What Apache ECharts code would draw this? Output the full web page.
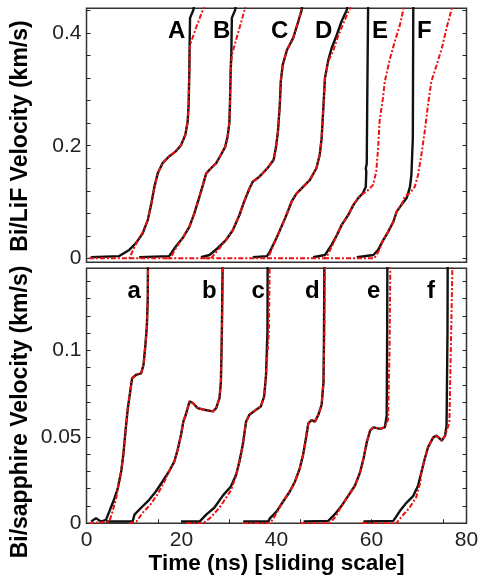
<!DOCTYPE html>
<html>
<head>
<meta charset="utf-8">
<script src="https://cdn.jsdelivr.net/npm/echarts@6/dist/echarts.min.js"></script>
<style>
  html, body { margin: 0; padding: 0; background: #fff; }
  #chart { width: 483px; height: 578px; }
</style>
</head>
<body>
<div id="chart"></div>
<script>
// Bi/LiF window, measured (black) and simulated (red), [time ns, velocity km/s]
const lifA_exp = [[0.9,0.002],[6.9,0.004],[9.0,0.015],[10.4,0.027],[11.8,0.044],[12.9,0.068],[13.6,0.095],[14.3,0.127],[15.0,0.151],[16.0,0.169],[17.4,0.181],[18.8,0.190],[19.9,0.201],[20.8,0.219],[21.3,0.243],[21.5,0.273],[21.65,0.332],[21.7,0.373],[21.8,0.427],[22.5,0.441],[22.9,0.46]];
const lifA_sim = [[0.5,0],[9.0,0],[10.1,0.020],[11.2,0.038],[11.8,0.046],[12.9,0.068],[13.6,0.095],[14.3,0.127],[15.0,0.151],[16.0,0.169],[17.4,0.181],[18.8,0.190],[19.9,0.201],[20.8,0.219],[21.3,0.243],[21.5,0.273],[21.65,0.332],[21.8,0.379],[23.05,0.409],[24.9,0.45]];
const lifB_exp = [[11.1,0.002],[17.4,0.004],[18.8,0.021],[20.25,0.036],[21.65,0.056],[22.7,0.080],[23.8,0.110],[24.5,0.130],[25.2,0.151],[26.2,0.160],[27.3,0.169],[28.3,0.184],[29.2,0.198],[29.7,0.216],[30.07,0.240],[30.2,0.273],[30.35,0.332],[30.5,0.367],[30.6,0.427],[31.3,0.441],[31.5,0.46]];
const lifB_sim = [[9.0,0],[17.6,0],[18.9,0.019],[20.25,0.036],[21.65,0.056],[22.7,0.080],[23.8,0.110],[24.5,0.130],[25.2,0.151],[26.2,0.160],[27.3,0.169],[28.3,0.184],[29.2,0.198],[29.7,0.216],[30.07,0.240],[30.2,0.273],[30.35,0.332],[30.6,0.361],[31.8,0.397],[33.6,0.45]];
const lifC_exp = [[24.1,0.002],[25.9,0.006],[27.6,0.018],[29.4,0.033],[30.8,0.050],[32.2,0.077],[33.2,0.101],[34.3,0.124],[35.0,0.136],[36.4,0.145],[38.1,0.160],[39.4,0.175],[39.9,0.198],[40.3,0.225],[40.7,0.273],[40.9,0.314],[41.3,0.343],[42.2,0.370],[43.5,0.391],[44.6,0.421],[45.3,0.441],[45.6,0.46]];
const lifC_sim = [[17.0,0],[26.2,0],[27.8,0.016],[29.4,0.033],[30.8,0.050],[32.2,0.077],[33.2,0.101],[34.3,0.124],[35.0,0.136],[36.4,0.145],[38.1,0.160],[39.4,0.175],[39.9,0.198],[40.3,0.225],[40.7,0.273],[40.9,0.314],[41.3,0.343],[42.2,0.370],[43.5,0.391],[44.6,0.421],[45.5,0.45]];
const lifD_exp = [[35.0,0.002],[38.0,0.004],[38.6,0.012],[40.0,0.036],[41.8,0.071],[43.2,0.101],[44.2,0.115],[45.6,0.127],[47.0,0.139],[48.4,0.160],[49.1,0.184],[49.5,0.213],[49.9,0.273],[50.2,0.320],[50.9,0.352],[51.6,0.373],[52.7,0.397],[53.7,0.421],[54.8,0.441],[55.2,0.46]];
const lifD_sim = [[25.0,0],[38.2,0],[38.8,0.012],[40.0,0.036],[41.8,0.071],[43.2,0.101],[44.2,0.115],[45.6,0.127],[47.0,0.139],[48.4,0.160],[49.1,0.184],[49.5,0.213],[49.9,0.273],[50.2,0.320],[50.9,0.350],[51.9,0.368],[53.0,0.395],[54.2,0.420],[55.8,0.45]];
const lifE_exp = [[47.7,0.002],[50.2,0.006],[51.6,0.024],[52.7,0.041],[53.7,0.059],[55.1,0.077],[56.2,0.095],[57.2,0.107],[58.2,0.116],[58.8,0.127],[58.9,0.154],[58.8,0.160],[59.0,0.168],[59.1,0.273],[59.3,0.46]];
const lifE_sim = [[38.0,0],[50.4,0],[51.7,0.022],[52.7,0.041],[53.7,0.059],[55.1,0.077],[56.2,0.095],[57.2,0.107],[58.2,0.115],[58.9,0.118],[60.3,0.130],[61.0,0.154],[61.4,0.196],[61.7,0.243],[62.4,0.284],[62.8,0.314],[63.9,0.355],[64.9,0.385],[66.0,0.415],[66.9,0.45]];
const lifF_exp = [[56.9,0.002],[60.4,0.006],[61.4,0.015],[62.5,0.033],[63.5,0.047],[64.6,0.065],[65.3,0.083],[66.3,0.095],[67.4,0.107],[68.1,0.127],[68.4,0.148],[68.7,0.213],[68.8,0.46]];
const lifF_sim = [[50.0,0],[60.6,0],[61.6,0.014],[62.5,0.033],[63.5,0.047],[64.6,0.065],[65.3,0.083],[66.3,0.095],[67.0,0.110],[68.1,0.116],[69.1,0.127],[69.8,0.148],[70.5,0.184],[71.2,0.225],[71.9,0.273],[72.6,0.314],[73.7,0.343],[74.8,0.373],[75.8,0.409],[77.1,0.45]];

// Bi/sapphire window
const sapA_exp = [[1.0,0.001],[2.0,0.003],[3.0,0.001],[4.1,0.002],[4.8,0.0068],[5.9,0.0145],[6.6,0.0204],[7.3,0.0299],[7.75,0.0396],[8.2,0.0531],[8.7,0.0666],[9.2,0.0762],[9.6,0.0839],[10.4,0.0858],[11.5,0.0867],[12.0,0.0916],[12.4,0.1032],[12.7,0.1138],[12.9,0.130],[12.95,0.16]];
const sapA_sim = [[0.5,0],[4.8,0.001],[5.4,0.006],[6.3,0.015],[6.6,0.0204],[7.3,0.0299],[7.75,0.0396],[8.2,0.0531],[8.7,0.0666],[9.2,0.0762],[9.6,0.0839],[10.4,0.0858],[11.5,0.0867],[12.0,0.0916],[12.4,0.1032],[12.7,0.1138],[12.9,0.130],[13.0,0.16]];
const sapB_exp = [[4.1,0.001],[9.7,0.001],[10.1,0.005],[11.5,0.009],[13.2,0.0136],[14.6,0.0184],[16.0,0.0242],[17.4,0.0301],[18.5,0.0358],[19.2,0.0426],[19.9,0.0512],[20.4,0.0589],[20.9,0.0628],[21.7,0.0705],[22.4,0.0696],[23.4,0.0666],[24.8,0.0657],[26.6,0.0647],[27.3,0.0666],[28.0,0.0724],[28.3,0.082],[28.5,0.111],[28.7,0.16]];
const sapB_sim = [[9.0,0],[10.5,0.001],[11.8,0.006],[13.5,0.011],[15.0,0.017],[16.3,0.0235],[17.4,0.0301],[18.5,0.0358],[19.2,0.0426],[19.9,0.0512],[20.4,0.0589],[20.9,0.0628],[21.7,0.0705],[22.4,0.0696],[23.4,0.0666],[24.8,0.0657],[26.6,0.0647],[27.3,0.0666],[28.0,0.0724],[28.3,0.082],[28.5,0.111],[28.8,0.16]];
const sapC_exp = [[19.9,0.001],[23.8,0.001],[25.2,0.005],[26.9,0.009],[28.7,0.016],[30.4,0.0213],[31.5,0.0281],[32.2,0.0358],[32.9,0.0454],[33.6,0.0589],[34.3,0.0628],[35.7,0.0657],[36.7,0.0676],[37.4,0.0734],[37.8,0.0859],[38.1,0.111],[38.15,0.16]];
const sapC_sim = [[21.0,0],[24.5,0],[26.0,0.003],[28.0,0.009],[30.4,0.019],[31.5,0.0275],[32.2,0.0358],[32.9,0.0454],[33.6,0.0589],[34.3,0.0628],[35.7,0.0657],[36.7,0.0676],[37.4,0.0734],[37.8,0.0859],[38.4,0.111],[38.6,0.16]];
const sapD_exp = [[33.0,0.001],[38.3,0.001],[38.6,0.0029],[40.0,0.0068],[41.4,0.0126],[42.8,0.0184],[43.9,0.0242],[44.9,0.0318],[45.6,0.0396],[46.2,0.0492],[46.7,0.0578],[47.4,0.0597],[48.1,0.0588],[48.8,0.0627],[49.5,0.0685],[49.9,0.082],[50.0,0.111],[50.1,0.16]];
const sapD_sim = [[33.0,0],[38.6,0],[39.4,0.003],[40.2,0.0068],[41.4,0.0126],[42.8,0.0184],[43.9,0.0242],[44.9,0.0318],[45.6,0.0396],[46.2,0.0492],[46.7,0.0578],[47.4,0.0597],[48.1,0.0588],[48.8,0.0627],[49.5,0.0685],[49.9,0.082],[50.1,0.111],[50.2,0.16]];
const sapE_exp = [[45.7,0.001],[50.9,0.0014],[52.3,0.0053],[53.7,0.0101],[55.1,0.0159],[56.5,0.0217],[57.6,0.0295],[58.3,0.0372],[59.0,0.0468],[59.7,0.0536],[60.4,0.0555],[61.8,0.0546],[62.8,0.0555],[63.2,0.0622],[63.3,0.111],[63.35,0.16]];
const sapE_sim = [[45.0,0],[51.2,0],[52.5,0.004],[53.7,0.0101],[55.1,0.0159],[56.5,0.0217],[57.6,0.0295],[58.3,0.0372],[59.0,0.0468],[59.7,0.0536],[60.4,0.0555],[61.8,0.0546],[62.8,0.0555],[63.5,0.060],[63.8,0.10],[64.0,0.16]];
const sapF_exp = [[58.3,0.001],[64.6,0.0014],[66.0,0.0072],[67.4,0.012],[68.8,0.0159],[69.8,0.0217],[70.5,0.0295],[71.2,0.0372],[71.9,0.044],[73.0,0.0497],[73.7,0.0507],[74.8,0.0478],[75.5,0.0507],[75.8,0.0565],[76.0,0.111],[76.05,0.16]];
const sapF_sim = [[58.0,0],[65.2,0],[66.4,0.004],[68.0,0.009],[69.4,0.015],[70.3,0.024],[70.5,0.0295],[71.2,0.0372],[71.9,0.044],[73.0,0.0497],[73.7,0.0507],[74.8,0.0478],[75.5,0.0507],[76.4,0.0584],[76.7,0.10],[77.0,0.143],[77.05,0.16]];

const lifExp = [lifA_exp, lifB_exp, lifC_exp, lifD_exp, lifE_exp, lifF_exp];
const lifSim = [lifA_sim, lifB_sim, lifC_sim, lifD_sim, lifE_sim, lifF_sim];
const sapExp = [sapA_exp, sapB_exp, sapC_exp, sapD_exp, sapE_exp, sapF_exp];
const sapSim = [sapA_sim, sapB_sim, sapC_sim, sapD_sim, sapE_sim, sapF_sim];

const timeLabels = [0, 20, 40, 60, 80];
const timeTicks = [15, 30, 45, 60, 75];
const lifLabels = [0, 0.2, 0.4];
const lifTicks = [0, 0.04, 0.08, 0.12, 0.16, 0.2, 0.24, 0.28, 0.32, 0.36, 0.4, 0.44];
const sapLabels = [0, 0.05, 0.1];
const sapTicks = [0, 0.01, 0.02, 0.03, 0.04, 0.05, 0.06, 0.07, 0.08, 0.09, 0.1, 0.11, 0.12, 0.13, 0.14];

const upperTags = ['A', 'B', 'C', 'D', 'E', 'F'];
const lowerTags = ['a', 'b', 'c', 'd', 'e', 'f'];

const font = 'Liberation Sans, Arial, sans-serif';
const black = '#111';
const red = '#ee1111';

function yAxisFor(grid, min, max, labels, ticks, right) {
    return {
        type: 'value', gridIndex: grid, min: min, max: max,
        position: right ? 'right' : 'left',
        splitLine: { show: false },
        axisLine: { show: false },
        axisTick: { show: true, inside: true, length: 4, customValues: ticks, lineStyle: { color: '#222', width: 1 } },
        axisLabel: right ? { show: false } : {
            customValues: labels, fontFamily: font, fontSize: 21, color: '#222', margin: 5,
            formatter: v => String(v)
        }
    };
}

const series = [];
function addLines(list, grid, color, dashed) {
    list.forEach(d => {
        series.push({
            type: 'line', xAxisIndex: grid, yAxisIndex: grid * 2, data: d,
            showSymbol: false, symbol: 'none', clip: true, silent: true,
            lineStyle: { color: color, width: dashed ? 2 : 2.4, type: dashed ? [5, 2, 2, 2] : 'solid' }
        });
    });
}
addLines(lifExp, 0, black, false);
addLines(lifSim, 0, red, true);
addLines(sapExp, 1, black, false);
addLines(sapSim, 1, red, true);

const upperX = [177, 222, 280, 324, 381, 426];
const lowerX = [135.5, 210, 259.5, 313, 375, 435];
const graphics = [];
upperTags.forEach((t, i) => graphics.push({
    type: 'text', left: upperX[i] - 9, top: 19,
    style: { text: t, fontFamily: font, fontSize: 24, fontWeight: 'bold', fill: '#000' }
}));
lowerTags.forEach((t, i) => graphics.push({
    type: 'text', left: lowerX[i] - 8, top: 279,
    style: { text: t, fontFamily: font, fontSize: 24, fontWeight: 'bold', fill: '#000' }
}));
// rotated y titles
[['Bi/LiF Velocity (km/s)', 136], ['Bi/sapphire Velocity (km/s)', 412]].forEach(([t, y]) => graphics.push({
    type: 'text', x: 21, y: y, rotation: Math.PI / 2,
    style: { text: t, fontFamily: font, fontSize: 23, fontWeight: 'bold', fill: '#000', align: 'center', verticalAlign: 'middle' }
}));

const chart = echarts.init(document.getElementById('chart'));
chart.setOption({
    animation: false,
    backgroundColor: '#fff',
    grid: [
        { left: 86.5, top: 8.3, width: 380, height: 254, show: true, borderColor: '#333', borderWidth: 1.5, backgroundColor: 'transparent' },
        { left: 86.5, top: 268.3, width: 380, height: 255, show: true, borderColor: '#333', borderWidth: 1.5, backgroundColor: 'transparent' }
    ],
    xAxis: [
        { type: 'value', gridIndex: 0, min: 0, max: 80, axisLabel: { show: false }, axisTick: { show: false }, axisLine: { show: false }, splitLine: { show: false } },
        {
            type: 'value', gridIndex: 1, min: 0, max: 80,
            axisLine: { show: false }, splitLine: { show: false },
            axisTick: { show: true, inside: true, length: 4, customValues: timeTicks, lineStyle: { color: '#222' } },
            axisLabel: { customValues: timeLabels, fontFamily: font, fontSize: 21, color: '#222', margin: 6 },
            name: 'Time (ns) [sliding scale]', nameLocation: 'middle', nameGap: 29,
            nameTextStyle: { fontFamily: font, fontSize: 22.5, fontWeight: 'bold', color: '#000' }
        }
    ],
    yAxis: [
        yAxisFor(0, -0.007, 0.444, lifLabels, lifTicks, false),
        yAxisFor(0, -0.007, 0.444, lifLabels, lifTicks, true),
        yAxisFor(1, 0, 0.1475, sapLabels, sapTicks, false),
        yAxisFor(1, 0, 0.1475, sapLabels, sapTicks, true)
    ],
    graphic: graphics,
    series: series
});
</script>
</body>
</html>
